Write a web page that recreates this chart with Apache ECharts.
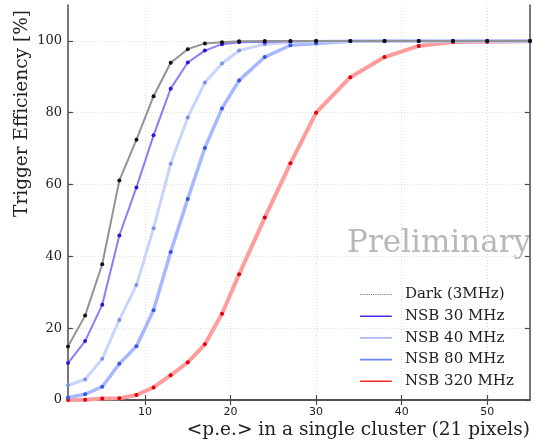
<!DOCTYPE html>
<html>
<head>
<meta charset="utf-8">
<script src="https://cdn.jsdelivr.net/npm/echarts@6/dist/echarts.min.js"></script>
<style>
  html, body { margin: 0; padding: 0; background: #fff; }
  #chart { width: 535px; height: 448px; }
</style>
</head>
<body>
<div id="chart"></div>
<script>
// <p.e.> values where the efficiency was sampled
const peValues = [1, 3, 5, 7, 9, 11, 13, 15, 17, 19, 21, 24, 27, 30, 34, 38, 42, 46, 50, 55];

// trigger efficiency [%] per curve
const darkEff = [14.9, 23.5, 37.8, 61.1, 72.5, 84.6, 93.9, 97.7, 99.3, 99.6, 99.9, 100, 100, 100, 100, 100, 100, 100, 100, 100];
const nsb30Eff = [10.3, 16.4, 26.5, 45.8, 59.2, 73.7, 86.7, 94.0, 97.3, 99.1, 99.6, 99.7, 99.9, 100, 100, 100, 100, 100, 100, 100];
const nsb40Eff = [4.1, 5.7, 11.5, 22.3, 32.0, 47.8, 65.8, 78.7, 88.4, 93.7, 97.3, 99.1, 99.6, 99.9, 100, 100, 100, 100, 100, 100];
const nsb80Eff = [0.7, 1.6, 3.7, 10.1, 15.0, 25.0, 41.2, 56.0, 70.2, 81.2, 89.0, 95.5, 98.8, 99.3, 99.9, 100, 100, 100, 100, 100];
const nsb320Eff = [0.0, 0.1, 0.4, 0.5, 1.4, 3.5, 6.9, 10.5, 15.5, 24.0, 35.0, 50.8, 65.9, 80.0, 89.9, 95.5, 98.6, 99.7, 99.8, 99.9];

const xTicks = [10, 20, 30, 40, 50];
const yTicks = [0, 20, 40, 60, 80, 100];

const serif = "DejaVu Serif";
const sans = "DejaVu Sans";
const frameColor = "#4a4a4a";

// legend glyphs: a short line, padded on the right so the text sits further out
const corners = "M0,0h0.01v0.01h-0.01z M40,2h0.01v0.01h-0.01z ";
const solidIcon = "path://" + corners + "M0,0.2h32v1.6h-32z";
let dots = "";
for (let i = 0; i < 32; i += 2.2) dots += "M" + i + ",0.5h1.1v1h-1.1z ";
const dottedIcon = "path://" + corners + dots;

function pairs(values) {
  return peValues.map((x, i) => [x, values[i]]);
}

function curve(name, values, lineColor, lineWidth, dotColor) {
  return {
    name: name,
    type: "line",
    data: pairs(values),
    symbol: "circle",
    symbolSize: 4,
    showSymbol: true,
    lineStyle: { color: lineColor, width: lineWidth },
    itemStyle: { color: dotColor },
    emphasis: { disabled: true },
    animation: false,
  };
}

function legendItem(name, icon, color) {
  return { name: name, icon: icon, itemStyle: { color: color, borderWidth: 0 } };
}

const chart = echarts.init(document.getElementById("chart"), null, {
  renderer: "canvas",
});

const option = {
  backgroundColor: "#fff",
  grid: { left: 68, right: 5, top: 5, bottom: 48 },
  xAxis: [
    {
      type: "value",
      min: 1,
      max: 55,
      position: "bottom",
      name: "<p.e.> in a single cluster (21 pixels)",
      nameLocation: "end",
      nameGap: 0,
      nameMoveOverlap: false,
      nameTextStyle: {
        fontFamily: serif,
        fontSize: 18.5,
        color: "#222",
        align: "right",
        verticalAlign: "top",
        padding: [21, 0, 0, 0],
      },
      axisLine: { show: true, lineStyle: { color: frameColor, width: 1.5 } },
      axisTick: {
        show: true,
        inside: true,
        length: 5,
        customValues: xTicks,
        lineStyle: { color: frameColor, width: 1.2 },
      },
      axisLabel: {
        customValues: xTicks,
        fontFamily: sans,
        fontSize: 11,
        color: "#222",
        margin: 7,
      },
      splitLine: {
        show: true,
        lineStyle: { color: "#dcdcdc", type: [1, 2], width: 1 },
      },
    },
    {
      type: "value",
      min: 1,
      max: 55,
      position: "top",
      axisLine: { show: true, lineStyle: { color: frameColor, width: 1.5 } },
      axisTick: {
        show: true,
        inside: true,
        length: 5,
        customValues: xTicks,
        lineStyle: { color: frameColor, width: 1.2 },
      },
      axisLabel: { show: false },
      splitLine: { show: false },
    },
  ],
  yAxis: [
    {
      type: "value",
      min: 0,
      max: 110,
      position: "left",
      name: "Trigger Efficiency [%]",
      nameLocation: "middle",
      nameGap: 36,
      nameMoveOverlap: false,
      nameTextStyle: {
        fontFamily: serif,
        fontSize: 18.5,
        color: "#222",
        padding: [0, 0, 0, 178],
      },
      axisLine: { show: true, lineStyle: { color: frameColor, width: 1.5 } },
      axisTick: {
        show: true,
        inside: true,
        length: 5,
        customValues: yTicks,
        lineStyle: { color: frameColor, width: 1.2 },
      },
      axisLabel: {
        customValues: yTicks,
        fontFamily: serif,
        fontSize: 13,
        color: "#222",
        margin: 6,
      },
      splitLine: {
        show: true,
        lineStyle: { color: "#dcdcdc", type: [1, 2], width: 1 },
      },
    },
    {
      type: "value",
      min: 0,
      max: 110,
      position: "right",
      axisLine: { show: true, lineStyle: { color: frameColor, width: 1.5 } },
      axisTick: {
        show: true,
        inside: true,
        length: 5,
        customValues: yTicks,
        lineStyle: { color: frameColor, width: 1.2 },
      },
      axisLabel: { show: false },
      splitLine: { show: false },
    },
  ],
  legend: {
    orient: "vertical",
    left: 355,
    top: 282,
    itemWidth: 40,
    itemHeight: 2,
    itemGap: 6.7,
    textStyle: { fontFamily: serif, fontSize: 15, color: "#222" },
    selectedMode: false,
    data: [
      legendItem("Dark (3MHz)", dottedIcon, "#777"),
      legendItem("NSB 30 MHz", solidIcon, "#4a2cf5"),
      legendItem("NSB 40 MHz", solidIcon, "#a8b8ff"),
      legendItem("NSB 80 MHz", solidIcon, "#6a84f8"),
      legendItem("NSB 320 MHz", solidIcon, "#ff2a2a"),
    ],
  },
  graphic: [
    {
      type: "text",
      right: 4,
      top: 228,
      style: {
        text: "Preliminary",
        fontFamily: serif,
        fontSize: 31,
        fill: "#b8b8b8",
      },
    },
  ],
  series: [
    curve("NSB 320 MHz", nsb320Eff, "#ff9c9c", 4, "#e0000c"),
    curve("NSB 80 MHz", nsb80Eff, "#a6b8ff", 3.5, "#3856e0"),
    curve("NSB 40 MHz", nsb40Eff, "#c8d4ff", 3, "#7b93e4"),
    curve("NSB 30 MHz", nsb30Eff, "#8c7cf6", 2, "#3412d8"),
    curve("Dark (3MHz)", darkEff, "#939393", 2, "#111"),
  ],
};

chart.setOption(option);
window.onresize = chart.resize;
</script>
</body>
</html>
